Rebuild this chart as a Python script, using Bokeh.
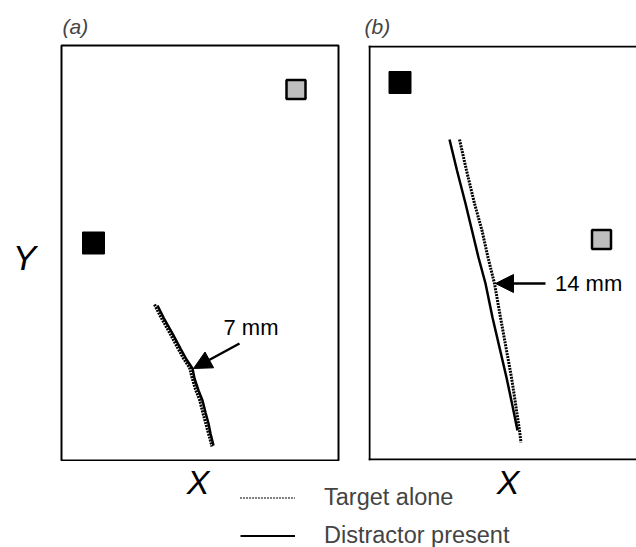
from bokeh.plotting import figure
from bokeh.layouts import row, column
from bokeh.models import Range1d, Arrow, NormalHead, ColumnDataSource, Span, Legend, LegendItem
from bokeh.core.properties import value
from bokeh.embed import file_html
from bokeh.resources import INLINE

FONT = "Liberation Sans"

# ---------------- data (panel units, origin at lower-left of each panel) ----------------
# Panel (a)
a_black_x = [32]
a_black_y = [217.5]
a_grey_x = [234.5]
a_grey_y = [371]
a_solid_x = [96, 102, 111, 119, 125, 131, 133, 137, 141, 144, 147, 149, 152]
a_solid_y = [155, 143, 127, 112, 101, 92, 82, 70, 60, 48, 37, 27, 15]
a_dot_x = [93, 99, 108, 116, 122, 128, 130.5, 134, 138, 141, 144, 147, 150.5]
a_dot_y = [156, 144, 128, 113, 102, 93, 83, 71, 61, 49, 38, 27, 14]
a_arrow = dict(x_start=[178], y_start=[117], x_end=[132], y_end=[92])
a_note = dict(x=[162], y=[133], text=["7 mm"])

# Panel (b)
b_black_x = [31.5]
b_black_y = [378]
b_grey_x = [233]
b_grey_y = [221]
b_solid_x = [81, 88.5, 97, 103.5, 110, 117, 124, 131, 138, 143.5, 149]
b_solid_y = [321, 290, 257, 230, 203, 177, 143, 113, 83, 57, 30]
b_dot_x = [91, 98, 106, 113.5, 119.5, 126, 132, 137.5, 143, 147, 151, 152.5]
b_dot_y = [321, 290, 257, 230, 203, 177, 143, 113, 83, 57, 30, 18]
b_arrow = dict(x_start=[177], y_start=[177], x_end=[127], y_end=[177])
b_note = dict(x=[186.5], y=[177], text=["14 mm"])

legend_labels = ["Target alone", "Distractor present"]
legend_dummy = [float("nan")]
panel_titles = ["(a)", "(b)"]
axis_x_label = "X"
axis_y_label = "Y"

PANEL_W, PANEL_H = 277, 415
PANEL_B_W = 268


def base_fig(width, height, xr, yr, keep_title=False, **kw):
    p = figure(width=width, height=height, x_range=Range1d(*xr), y_range=Range1d(*yr),
               x_axis_type=None, y_axis_type=None, toolbar_location=None,
               output_backend="svg", **kw)
    if not keep_title:
        p.title = None
    p.grid.visible = False
    p.background_fill_color = "white"
    p.border_fill_color = "white"
    return p


def style_title(p, txt, offset):
    p.title.text = txt
    p.title.text_font = FONT
    p.title.text_font_size = "21px"
    p.title.text_font_style = "italic"
    p.title.align = "left"
    p.title.offset = offset
    p.title.standoff = 15


def draw_panel(p, bx, by, gx, gy, sx, sy, dx, dy, arr, note):
    p.scatter(bx, by, marker="square", size=22, fill_color="black", line_color="black", line_width=1)
    p.scatter(gx, gy, marker="square", size=19, fill_color="#bebebe", line_color="black", line_width=2.5)
    p.line(dx, dy, line_color="black", line_width=3, line_dash="2 1")
    p.line(sx, sy, line_color="black", line_width=2.5)
    src = ColumnDataSource(arr)
    p.add_layout(Arrow(end=NormalHead(size=18, fill_color="black", line_color="black"),
                       source=src, x_start="x_start", y_start="y_start",
                       x_end="x_end", y_end="y_end", line_width=2.5, line_color="black"))
    p.text(x="x", y="y", text="text", source=ColumnDataSource(note),
           text_font=value(FONT), text_font_size=value("22px"),
           text_baseline="alphabetic", text_align="left", text_color="black")


TOP_H = 461
BOT_H = 547 - TOP_H

# Y label column
fy = base_fig(58, TOP_H, (0, 58), (0, TOP_H), min_border=0)
fy.outline_line_color = None
fy.text(x=[24], y=[225.5], text=[axis_y_label], text_font=value(FONT), text_font_size=value("35px"),
        text_font_style="italic", text_align="center", text_baseline="alphabetic")

# Panel (a)
fa = base_fig(3 + PANEL_W + 27, TOP_H, (0, PANEL_W), (0, PANEL_H), keep_title=True,
              min_border_left=3, min_border_right=27, min_border_top=45, min_border_bottom=1)
fa.outline_line_color = "black"
fa.outline_line_width = 2
style_title(fa, panel_titles[0], 1)
draw_panel(fa, a_black_x, a_black_y, a_grey_x, a_grey_y, a_solid_x, a_solid_y,
           a_dot_x, a_dot_y, a_arrow, a_note)

# Panel (b) - cut off at the right, no right edge
fb = base_fig(3 + PANEL_B_W, TOP_H, (0, PANEL_B_W), (0, PANEL_H), keep_title=True,
              min_border_left=3, min_border_right=0, min_border_top=45, min_border_bottom=1)
fb.outline_line_color = None
style_title(fb, panel_titles[1], -4)
for loc, dim in [(1, "height"), (1, "width"), (PANEL_H - 1, "width")]:
    fb.add_layout(Span(location=loc, dimension=dim, line_color="black", line_width=2))
draw_panel(fb, b_black_x, b_black_y, b_grey_x, b_grey_y, b_solid_x, b_solid_y,
           b_dot_x, b_dot_y, b_arrow, b_note)

# Bottom strip: X labels and legend
fc = base_fig(636, BOT_H, (0, 636), (0, BOT_H), min_border=0)
fc.outline_line_color = None
fc.text(x=[197.5, 507.5], y=[66, 66], text=[axis_x_label, axis_x_label], text_font=value(FONT),
        text_font_size=value("34px"), text_font_style="italic", text_align="center",
        text_baseline="alphabetic")
r_dot = fc.line(legend_dummy, legend_dummy, line_color="black", line_width=2, line_dash="1 2")
r_sol = fc.line(legend_dummy, legend_dummy, line_color="black", line_width=2)
leg = Legend(items=[LegendItem(label=legend_labels[0], renderers=[r_dot]),
                    LegendItem(label=legend_labels[1], renderers=[r_sol])],
             location=(240, -2), orientation="vertical",
             label_text_font=FONT, label_text_font_size="23.5px",
             glyph_width=55, glyph_height=27, label_height=27, label_standoff=29,
             spacing=11, padding=0, margin=0,
             background_fill_alpha=0, border_line_color=None)
fc.add_layout(leg, "center")

layout = column(row(fy, fa, fb, spacing=0), fc, spacing=0)

open("out.html", "w").write(file_html(layout, INLINE))
